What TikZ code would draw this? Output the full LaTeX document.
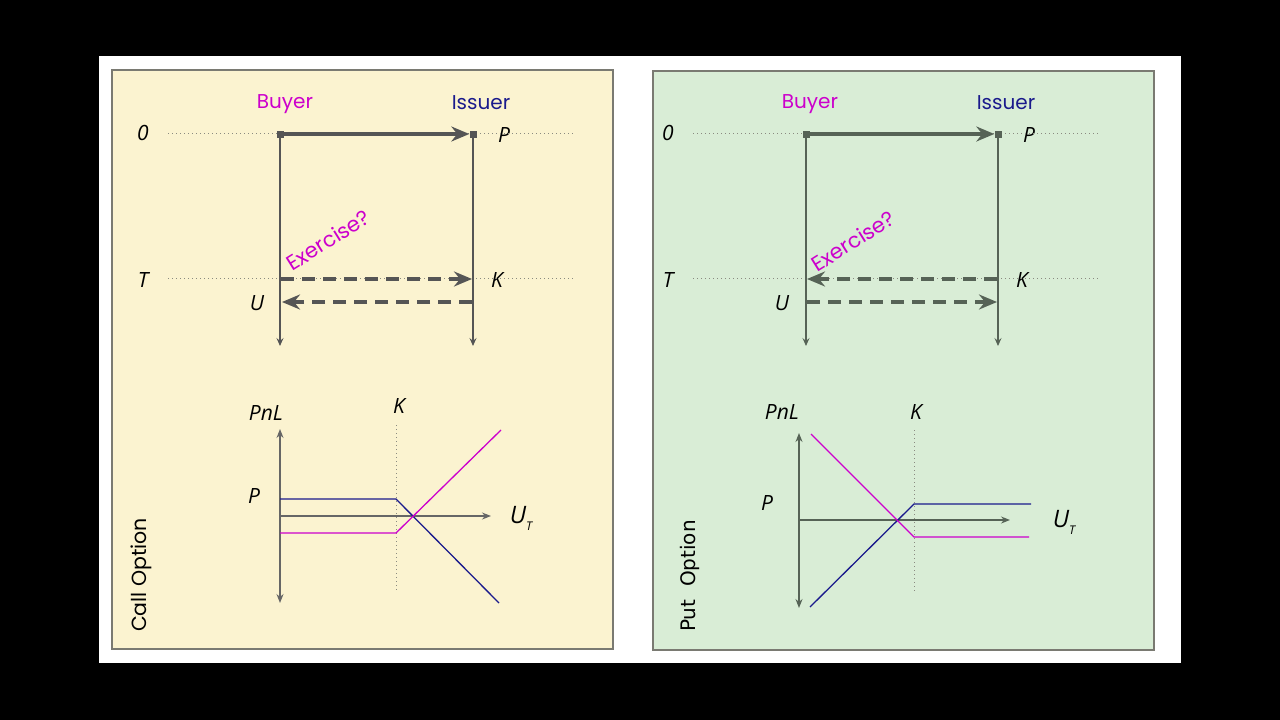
\documentclass[tikz,border=0pt]{standalone}
\usepackage{fontspec}
\setmainfont{Open Sans}
\newfontfamily\popp{Poppins}
\newfontfamily\dvs{DejaVu Sans}
\usetikzlibrary{arrows.meta}
\definecolor{bgY}{HTML}{FBF3D0}
\definecolor{bgG}{HTML}{D9EDD6}
\definecolor{frame}{HTML}{7A7A72}
\definecolor{arr}{HTML}{555555}
\definecolor{arrG}{HTML}{566356}
\definecolor{mag}{HTML}{CC00CC}
\definecolor{navy}{HTML}{1A1A8C}
\definecolor{dotc}{HTML}{8A8A80}
\tikzset{
  lab/.style={font=\fontsize{21}{21}\selectfont\itshape, text=black, inner sep=0pt},
  hdr/.style={font=\popp\fontsize{20}{20}\selectfont, inner sep=0pt},
  guide/.style={draw=dotc, line width=1pt, dash pattern=on 1pt off 3pt},
  life/.style={draw=#1, line width=1.3pt, -{Stealth[length=8pt,width=7pt,inset=3pt]}},
  msg/.style={draw=#1, line width=3.5pt, -{Stealth[length=18pt,width=15pt,inset=6pt]}},
  dmsg/.style={msg=#1, dash pattern=on 13pt off 8pt},
  sq/.style={fill=#1, minimum size=7pt, inner sep=0pt, draw=none},
  axis/.style={draw=#1, line width=1.3pt, -{Stealth[length=9pt,width=7pt,inset=3pt]}},
  daxis/.style={draw=#1, line width=1.3pt, {Stealth[length=9pt,width=7pt,inset=3pt]}-{Stealth[length=9pt,width=7pt,inset=3pt]}},
  pay/.style={draw=#1, line width=1.3pt},
  panel/.style={fill=#1, draw=frame, line width=1.2pt},
  exer/.style={text=mag, rotate=32, font=\popp\fontsize{21}{21}\selectfont, inner sep=0pt},
  side/.style={rotate=90, text=black, inner sep=0pt},
}
\begin{document}
\begin{tikzpicture}[x=1pt,y=-1pt]
\fill[black] (0,0) rectangle (1280,720);
\useasboundingbox (0,0) rectangle (1280,720);
\fill[white] (99,56) rectangle (1181,663);
\draw[panel=bgY] (112,70) rectangle (613,649);
\draw[panel=bgG] (653,71) rectangle (1154,650);

% ================= LEFT PANEL (Call) =================
\node[hdr, text=mag] (lbuy) at (285,104) {Buyer};
\node[hdr, text=navy] (liss) at (481,103) {Issuer};
\node[lab] (l0) at (143,133) {0};
\node[lab] (lP) at (504,135) {P};
\node[lab] (lT) at (143,280) {T};
\node[lab] (lK) at (497,280) {K};
\node[lab] (lU) at (257,303) {U};
\coordinate (lg0a) at (168,133); \coordinate (lg0b) at (575,133);
\coordinate (lgTa) at (168,278); \coordinate (lgTb) at (575,278);
\draw[guide] (lg0a) -- (lg0b);
\draw[guide] (lgTa) -- (lgTb);
\node[sq=arr] (lsqB) at (280,134) {};
\node[sq=arr] (lsqI) at (473,134) {};
\coordinate (lBend) at (280,346);
\coordinate (lIend) at (473,346);
\draw[life=arr] (lsqB.south) -- (lBend);
\draw[life=arr] (lsqI.south) -- (lIend);
\draw[msg=arr] (lsqB.center) -- (lsqI.west);
\coordinate (lkA) at (281,279); \coordinate (lkB) at (472,279);
\draw[dmsg=arr] (lkA) -- (lkB);
\coordinate (luA) at (472,302); \coordinate (luB) at (282,302);
\draw[dmsg=arr] (luA) -- (luB);
\node[exer] (lex) at (328,240) {Exercise?};

% chart
\node[lab] (lPnL) at (266,413) {PnL};
\node[lab] (lKc) at (399,406) {K};
\node[lab] (lPc) at (254,496) {P};
\node[lab, font=\fontsize{24}{24}\selectfont\itshape] (lUT) at (521,518) {U\raisebox{-7pt}{\fontsize{12}{12}\selectfont T}};
\coordinate (lax1) at (280,429); \coordinate (lax2) at (280,603);
\draw[daxis=arr!90] (lax2) -- (lax1);
\coordinate (lh1) at (280,516); \coordinate (lh2) at (491,516);
\draw[axis=arr!90] (lh1) -- (lh2);
\coordinate (lkv1) at (396,425); \coordinate (lkv2) at (396,590);
\draw[guide] (lkv1) -- (lkv2);
\coordinate (lb1) at (280,499); \coordinate (lb2) at (396,499); \coordinate (lb3) at (499,603);
\draw[pay=navy] (lb1) -- (lb2) -- (lb3);
\coordinate (lm1) at (280,533); \coordinate (lm2) at (396,533); \coordinate (lm3) at (501,430);
\draw[pay=mag] (lm1) -- (lm2) -- (lm3);
\node[side, font=\popp\fontsize{20.5}{20.5}\selectfont] (lcall) at (141,575) {Call Option};

% ================= RIGHT PANEL (Put) =================
\node[hdr, text=mag] (rbuy) at (810,104) {Buyer};
\node[hdr, text=navy] (riss) at (1006,103) {Issuer};
\node[lab] (r0) at (668,133) {0};
\node[lab] (rP) at (1029,135) {P};
\node[lab] (rT) at (668,280) {T};
\node[lab] (rK) at (1022,280) {K};
\node[lab] (rU) at (782,303) {U};
\coordinate (rg0a) at (693,133); \coordinate (rg0b) at (1100,133);
\coordinate (rgTa) at (693,278); \coordinate (rgTb) at (1100,278);
\draw[guide] (rg0a) -- (rg0b);
\draw[guide] (rgTa) -- (rgTb);
\node[sq=arrG] (rsqB) at (806,134) {};
\node[sq=arrG] (rsqI) at (998,134) {};
\coordinate (rBend) at (806,346);
\coordinate (rIend) at (998,346);
\draw[life=arrG] (rsqB.south) -- (rBend);
\draw[life=arrG] (rsqI.south) -- (rIend);
\draw[msg=arrG] (rsqB.center) -- (rsqI.west);
\coordinate (rkA) at (997,279); \coordinate (rkB) at (807,279);
\draw[dmsg=arrG] (rkA) -- (rkB);
\coordinate (ruA) at (807,302); \coordinate (ruB) at (997,302);
\draw[dmsg=arrG] (ruA) -- (ruB);
\node[exer] (rex) at (853,241) {Exercise?};

% chart
\node[lab] (rPnL) at (782,412) {PnL};
\node[lab] (rKc) at (916,412) {K};
\node[lab] (rPc) at (767,503) {P};
\node[lab, font=\fontsize{24}{24}\selectfont\itshape] (rUT) at (1064,522) {U\raisebox{-7pt}{\fontsize{12}{12}\selectfont T}};
\coordinate (rax1) at (799,433); \coordinate (rax2) at (799,608);
\draw[daxis=arrG] (rax2) -- (rax1);
\coordinate (rh1) at (799,520); \coordinate (rh2) at (1010,520);
\draw[axis=arrG] (rh1) -- (rh2);
\coordinate (rkv1) at (914,430); \coordinate (rkv2) at (914,592);
\draw[guide] (rkv1) -- (rkv2);
\coordinate (rb1) at (810,607); \coordinate (rb2) at (914,504); \coordinate (rb3) at (1031,504);
\draw[pay=navy] (rb1) -- (rb2) -- (rb3);
\coordinate (rm1) at (811,434); \coordinate (rm2) at (914,537); \coordinate (rm3) at (1029,537);
\draw[pay=mag] (rm1) -- (rm2) -- (rm3);
\node[side, font=\dvs\fontsize{20}{20}\selectfont] (rput) at (690,576) {Put\ \ Option};
\end{tikzpicture}
\end{document}
